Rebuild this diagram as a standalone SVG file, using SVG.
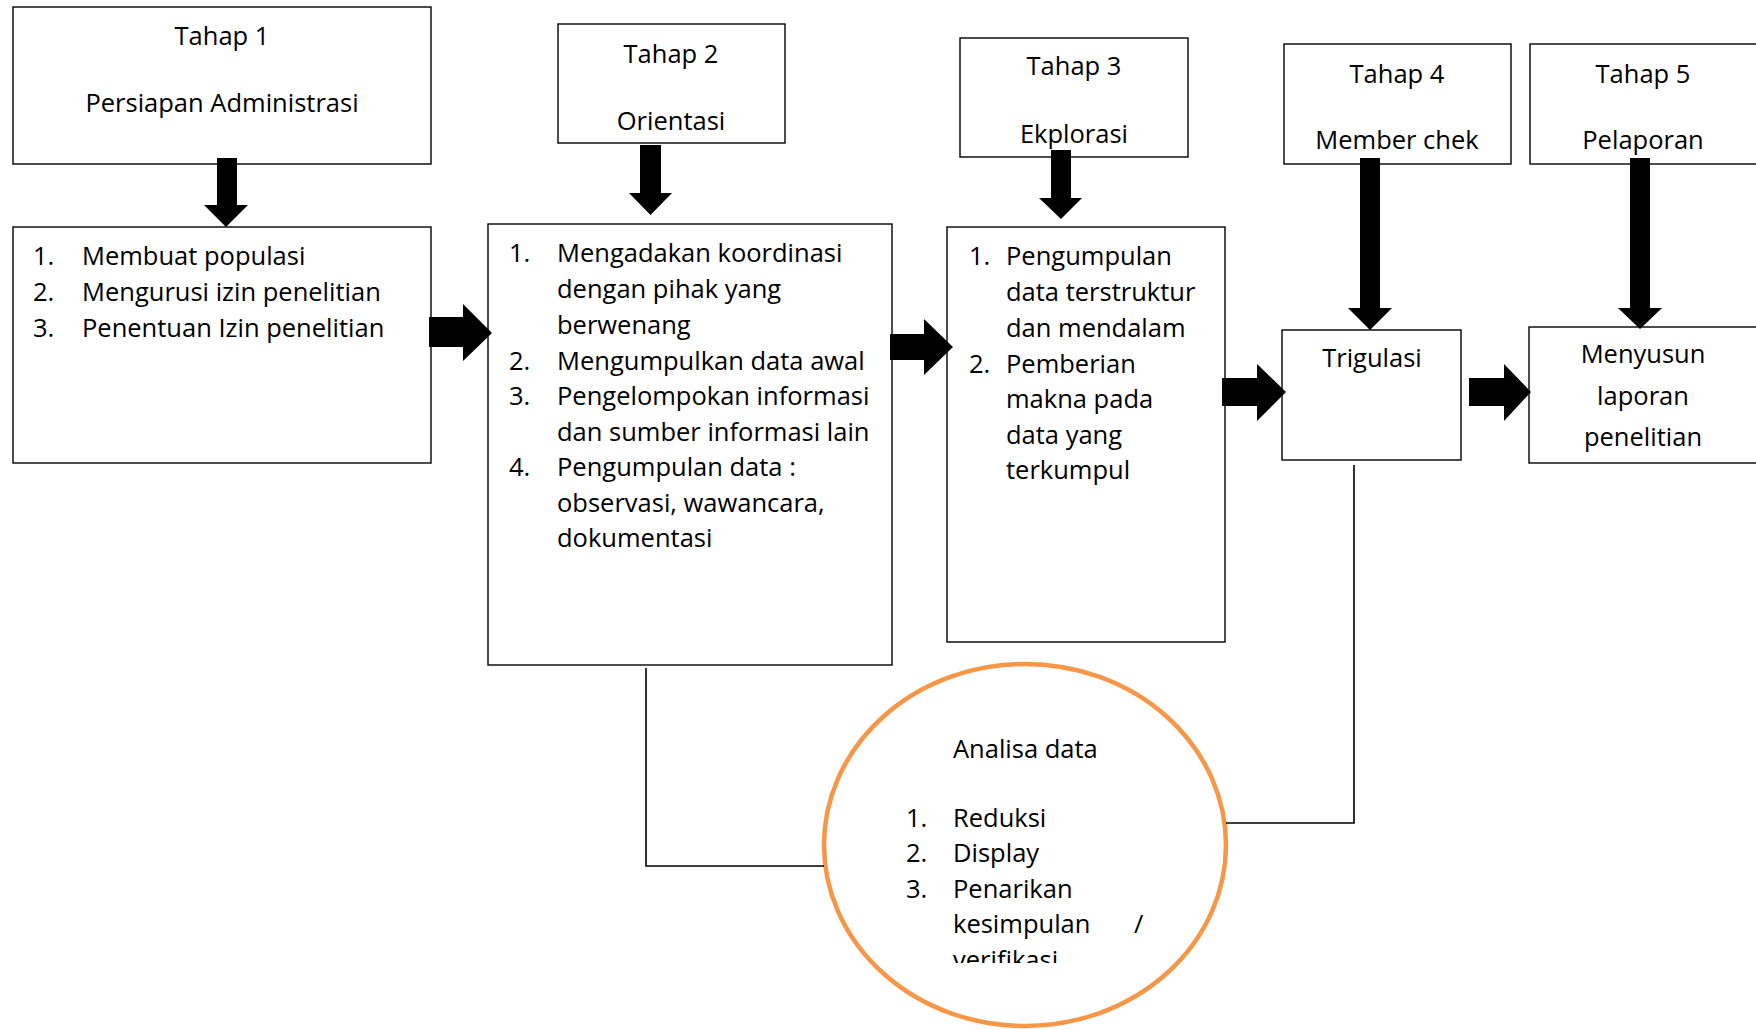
<svg xmlns="http://www.w3.org/2000/svg" width="1756" height="1029" viewBox="0 0 1756 1029">
<style>
.box{fill:#fff;stroke:#000;stroke-width:1.4}
.t{font-family:"Open Sans","Noto Sans",sans-serif;font-size:25.5px;fill:#000}
.c{text-anchor:middle}
.arr{fill:#000}
.ln{fill:none;stroke:#000;stroke-width:1.6}
</style>
<defs>
<clipPath id="clipV"><rect x="900" y="900" width="300" height="63"/></clipPath>
</defs>
<rect width="1756" height="1029" fill="#fff"/>

<g id="tahap1">
<rect class="box" x="13" y="7" width="418" height="157"/>
<text class="t c" x="222" y="45">Tahap 1</text>
<text class="t c" x="222" y="112">Persiapan Administrasi</text>
</g>
<g id="list1">
<rect class="box" x="13" y="227" width="418" height="236"/>
<text class="t" x="33" y="265">1.</text><text class="t" x="82" y="265">Membuat populasi</text>
<text class="t" x="33" y="301">2.</text><text class="t" x="82" y="301">Mengurusi izin penelitian</text>
<text class="t" x="33" y="337">3.</text><text class="t" x="82" y="337">Penentuan Izin penelitian</text>
</g>

<g id="tahap2">
<rect class="box" x="558" y="24" width="227" height="119"/>
<text class="t c" x="671" y="63">Tahap 2</text>
<text class="t c" x="671" y="130">Orientasi</text>
</g>
<g id="list2">
<rect class="box" x="488" y="224" width="404" height="441"/>
<text class="t" x="509" y="262">1.</text><text class="t" x="557" y="262">Mengadakan koordinasi</text>
<text class="t" x="557" y="298">dengan pihak yang</text>
<text class="t" x="557" y="334">berwenang</text>
<text class="t" x="509" y="370">2.</text><text class="t" x="557" y="370">Mengumpulkan data awal</text>
<text class="t" x="509" y="405">3.</text><text class="t" x="557" y="405">Pengelompokan informasi</text>
<text class="t" x="557" y="441">dan sumber informasi lain</text>
<text class="t" x="509" y="476">4.</text><text class="t" x="557" y="476">Pengumpulan data :</text>
<text class="t" x="557" y="512">observasi, wawancara,</text>
<text class="t" x="557" y="547">dokumentasi</text>
</g>

<g id="tahap3">
<rect class="box" x="960" y="38" width="228" height="119"/>
<text class="t c" x="1074" y="75">Tahap 3</text>
<text class="t c" x="1074" y="143">Ekplorasi</text>
</g>
<g id="list3">
<rect class="box" x="947" y="227" width="278" height="415"/>
<text class="t" x="969" y="265">1.</text><text class="t" x="1006" y="265">Pengumpulan</text>
<text class="t" x="1006" y="301">data terstruktur</text>
<text class="t" x="1006" y="337">dan mendalam</text>
<text class="t" x="969" y="373">2.</text><text class="t" x="1006" y="373">Pemberian</text>
<text class="t" x="1006" y="408">makna pada</text>
<text class="t" x="1006" y="444">data yang</text>
<text class="t" x="1006" y="479">terkumpul</text>
</g>

<g id="tahap4">
<rect class="box" x="1284" y="44" width="227" height="120"/>
<text class="t c" x="1397" y="83">Tahap 4</text>
<text class="t c" x="1397" y="149">Member chek</text>
</g>
<g id="trigulasi">
<rect class="box" x="1282" y="330" width="179" height="130"/>
<text class="t c" x="1372" y="367">Trigulasi</text>
</g>

<g id="tahap5">
<rect class="box" x="1530" y="44" width="240" height="120"/>
<text class="t c" x="1643" y="83">Tahap 5</text>
<text class="t c" x="1643" y="149">Pelaporan</text>
</g>
<g id="menyusun">
<rect class="box" x="1529" y="327" width="240" height="136"/>
<text class="t c" x="1643" y="363">Menyusun</text>
<text class="t c" x="1643" y="405">laporan</text>
<text class="t c" x="1643" y="446">penelitian</text>
</g>

<g id="analisa">
<ellipse cx="1025" cy="845" rx="201" ry="181" fill="#fff" stroke="#F79646" stroke-width="4.5"/>
<text class="t" x="953" y="758">Analisa data</text>
<text class="t" x="906" y="827">1.</text><text class="t" x="953" y="827">Reduksi</text>
<text class="t" x="906" y="862">2.</text><text class="t" x="953" y="862">Display</text>
<text class="t" x="906" y="898">3.</text><text class="t" x="953" y="898">Penarikan</text>
<text class="t" x="953" y="933">kesimpulan</text><text class="t" x="1134" y="933">/</text>
<text class="t" x="953" y="969" clip-path="url(#clipV)">verifikasi</text>
</g>

<g id="connectors">
<path class="ln" d="M646 668 V866 H824"/>
<path class="ln" d="M1354 465 V823 H1226"/>
<polygon class="arr" points="217,158 237,158 237,205 248,205 226,227 204,205 217,205"/>
<polygon class="arr" points="640,145 661,145 661,193 672,193 650.5,215 629,193 640,193"/>
<polygon class="arr" points="1051,150 1071,150 1071,198 1082,198 1061,219 1039,198 1051,198"/>
<polygon class="arr" points="1360,158 1380,158 1380,308 1392,308 1370,330 1348,308 1360,308"/>
<polygon class="arr" points="1630,158 1650,158 1650,308 1662,308 1640,329 1618,308 1630,308"/>
<polygon class="arr" points="429,317 463,317 463,304 492,333 463,361 463,347 429,347"/>
<polygon class="arr" points="890,334 924,334 924,319 953,347 924,375 924,360 890,360"/>
<polygon class="arr" points="1222,378 1257,378 1257,364 1286,392 1257,421 1257,406 1222,406"/>
<polygon class="arr" points="1469,378 1504,378 1504,364 1531,392 1504,421 1504,406 1469,406"/>
</g>
</svg>
